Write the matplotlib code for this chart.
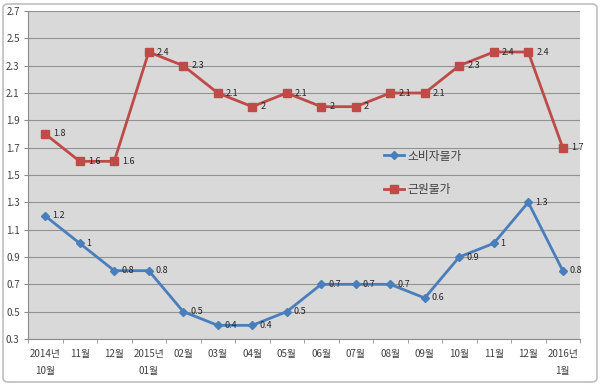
import matplotlib
matplotlib.use("Agg")
import matplotlib.pyplot as plt
from matplotlib.patches import FancyBboxPatch
import numpy as np

plt.rcParams['font.family'] = ['Noto Sans CJK KR', 'DejaVu Sans']

categories = ["2014년\n10월", "11월", "12월", "2015년\n01월", "02월", "03월", "04월", "05월",
              "06월", "07월", "08월", "09월", "10월", "11월", "12월", "2016년\n1월"]
cpi = [1.2, 1.0, 0.8, 0.8, 0.5, 0.4, 0.4, 0.5, 0.7, 0.7, 0.7, 0.6, 0.9, 1.0, 1.3, 0.8]
core = [1.8, 1.6, 1.6, 2.4, 2.3, 2.1, 2.0, 2.1, 2.0, 2.0, 2.1, 2.1, 2.3, 2.4, 2.4, 1.7]
series_names = ["소비자물가", "근원물가"]
yticks = [0.3, 0.5, 0.7, 0.9, 1.1, 1.3, 1.5, 1.7, 1.9, 2.1, 2.3, 2.5, 2.7]

blue = "#4A7EBB"
red = "#BE4B48"

fig = plt.figure(figsize=(6, 3.85), dpi=100)
fig.patch.set_facecolor("white")
ax = fig.add_axes([28/600, 1-339/385, (580-28)/600, (339-11)/385])
ax.set_facecolor("#D9D9D9")

x = np.arange(len(categories))
ax.set_xlim(-0.5, len(categories)-0.5)
ax.set_ylim(0.3, 2.7)
ax.set_yticks(yticks)
ax.set_yticklabels([f"{v:.1f}" for v in yticks], fontsize=7, color="#404040")
ax.yaxis.grid(True, color="#929292", linewidth=0.8)
ax.set_axisbelow(True)

ax.set_xticks(x)
ax.set_xticklabels(categories, fontsize=7, color="#404040", linespacing=1.9, va="top")
ax.set_xticks(np.arange(-0.5, len(categories), 1), minor=True)
ax.tick_params(axis="x", which="major", length=0, pad=7)
ax.tick_params(axis="x", which="minor", length=3, color="#8C8C8C")
ax.tick_params(axis="y", length=3, color="#8C8C8C", pad=3)

for s in ["top", "right"]:
    ax.spines[s].set_visible(False)
for s in ["left", "bottom"]:
    ax.spines[s].set_color("#8C8C8C")
    ax.spines[s].set_linewidth(0.8)

l1, = ax.plot(x, cpi, color=blue, linewidth=2, marker="D", markersize=4, label=series_names[0])
l2, = ax.plot(x, core, color=red, linewidth=2, marker="s", markersize=5.5, label=series_names[1])

def fmt(v):
    return str(int(v)) if float(v).is_integer() else f"{v:.1f}"

for xi, v in zip(x, cpi):
    ax.annotate(fmt(v), (xi, v), xytext=(5, 0), textcoords="offset points",
                fontsize=6.5, va="center", ha="left", color="#262626")
for xi, v in zip(x, core):
    ax.annotate(fmt(v), (xi, v), xytext=(6, 0), textcoords="offset points",
                fontsize=6.5, va="center", ha="left", color="#262626")

leg = ax.legend(handles=[l1, l2], loc="upper left", bbox_to_anchor=(0.625, 0.61),
                frameon=False, fontsize=8.5, labelspacing=1.75, handlelength=1.7,
                handletextpad=0.3, labelcolor="#404040")

border = FancyBboxPatch((3/600, 3/385), 594/600, 378/385, boxstyle="round,pad=0,rounding_size=0.01",
                        transform=fig.transFigure, fill=False, edgecolor="#BFBFBF", linewidth=1.2)
fig.patches.append(border)

fig.savefig("out.png", dpi=100, facecolor="white")
